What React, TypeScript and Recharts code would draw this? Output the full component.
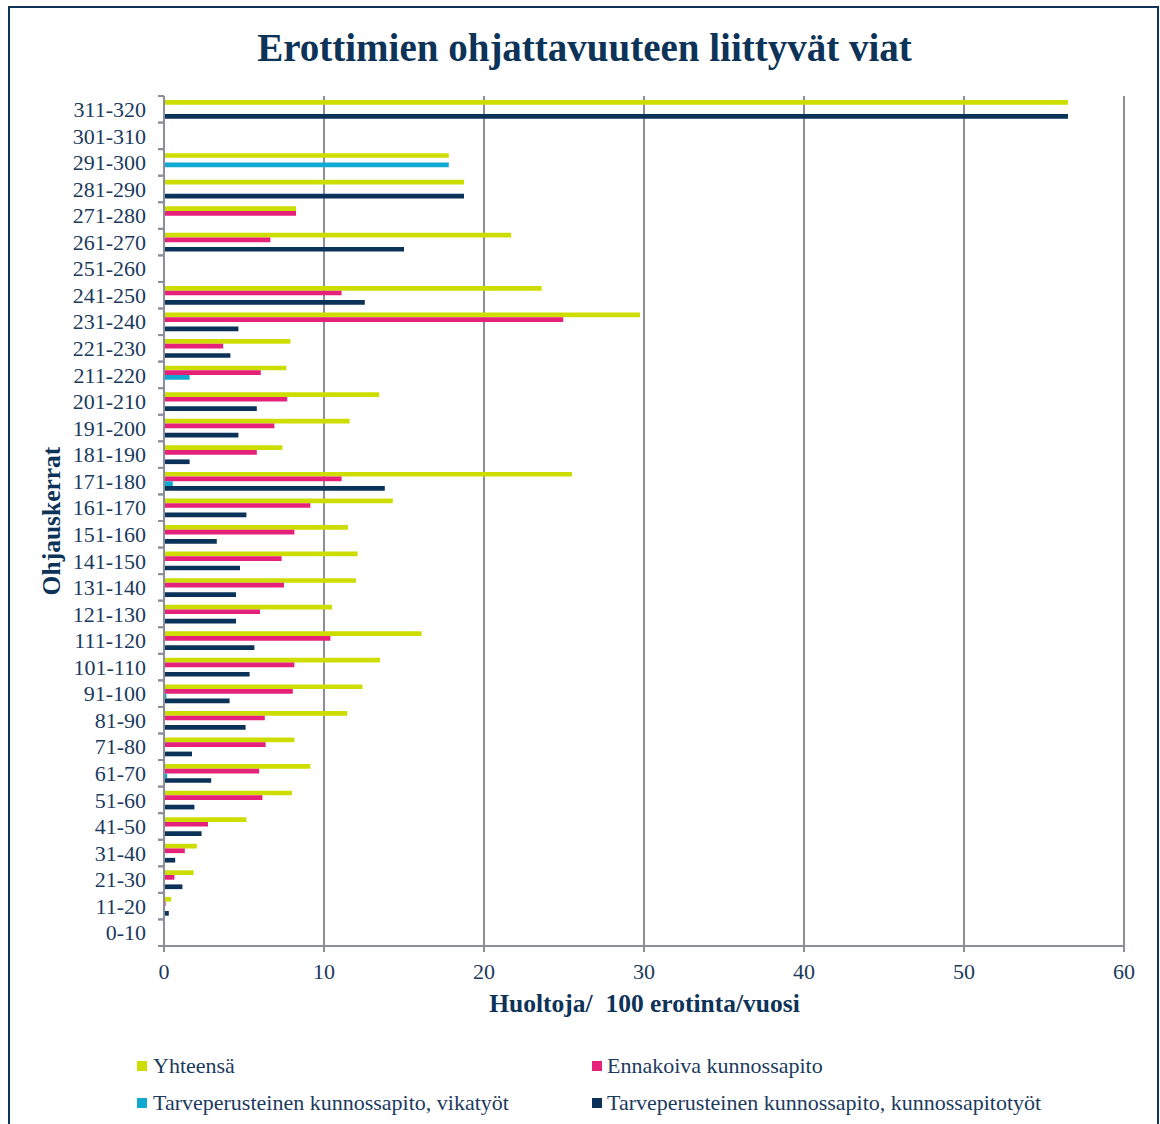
import React from 'react';
import { BarChart, Bar, XAxis, YAxis, CartesianGrid } from 'recharts';

// Categories listed from top of chart to bottom
const categories = [
  '311-320', '301-310', '291-300', '281-290', '271-280', '261-270', '251-260', '241-250',
  '231-240', '221-230', '211-220', '201-210', '191-200', '181-190', '171-180', '161-170',
  '151-160', '141-150', '131-140', '121-130', '111-120', '101-110', '91-100', '81-90',
  '71-80', '61-70', '51-60', '41-50', '31-40', '21-30', '11-20', '0-10',
];

const yhteensa = [
  56.5, 0, 17.8, 18.75, 8.25, 21.7, 0, 23.6,
  29.75, 7.9, 7.65, 13.45, 11.6, 7.4, 25.5, 14.3,
  11.5, 12.1, 12.0, 10.5, 16.1, 13.5, 12.4, 11.45,
  8.15, 9.15, 8.0, 5.15, 2.05, 1.85, 0.45, 0,
];

const ennakoiva = [
  0, 0, 0, 0, 8.25, 6.65, 0, 11.1,
  24.95, 3.7, 6.05, 7.7, 6.9, 5.8, 11.1, 9.15,
  8.15, 7.35, 7.5, 6.0, 10.4, 8.15, 8.05, 6.3,
  6.35, 5.95, 6.15, 2.75, 1.3, 0.65, 0.1, 0,
];

const vikatyot = [
  0, 0, 17.8, 0, 0, 0, 0, 0,
  0, 0, 1.6, 0, 0, 0, 0.55, 0,
  0, 0, 0, 0, 0, 0, 0.15, 0,
  0, 0.2, 0, 0, 0, 0, 0, 0,
];

const kunnossapitotyot = [
  56.5, 0, 0, 18.75, 0, 15.0, 0, 12.55,
  4.65, 4.15, 0, 5.8, 4.65, 1.6, 13.8, 5.15,
  3.3, 4.75, 4.5, 4.5, 5.65, 5.35, 4.1, 5.1,
  1.75, 2.95, 1.9, 2.35, 0.7, 1.15, 0.3, 0,
];

const xTicks = [0, 10, 20, 30, 40, 50, 60];

const seriesKeys = ['yhteensa', 'ennakoiva', 'vikatyot', 'kunnossapitotyot'];
const seriesNames = [
  'Yhteensä',
  'Ennakoiva kunnossapito',
  'Tarveperusteinen kunnossapito, vikatyöt',
  'Tarveperusteinen kunnossapito, kunnossapitotyöt',
];
const seriesColors = ['#CEDD00', '#E5217A', '#10A9D1', '#0B3258'];

const data = categories.map((cat, i) => ({
  cat,
  yhteensa: yhteensa[i],
  ennakoiva: ennakoiva[i],
  vikatyot: vikatyot[i],
  kunnossapitotyot: kunnossapitotyot[i],
}));

const FONT = '"Liberation Serif", "Times New Roman", serif';
const TEXT = '#1B3A5E';
const TITLE = '#0D3358';
const GRID = '#8C8F9B';
const PLOT_LEFT = 164;
const PLOT_TOP = 96;
const PLOT_BOTTOM = 946;
const BAND = (PLOT_BOTTOM - PLOT_TOP) / categories.length;

const YTick = (props: any) => {
  const { y, payload } = props;
  return (
    <g>
      <line x1={PLOT_LEFT - 6} x2={PLOT_LEFT} y1={y - BAND / 2} y2={y - BAND / 2} stroke={GRID} strokeWidth={2} />
      <line x1={PLOT_LEFT - 6} x2={PLOT_LEFT} y1={y + BAND / 2} y2={y + BAND / 2} stroke={GRID} strokeWidth={2} />
      <text
        x={PLOT_LEFT - 18}
        y={y}
        dy="0.35em"
        textAnchor="end"
        fill={TEXT}
        fontSize={22}
        fontFamily={FONT}
        style={{ fontFamily: FONT }}
      >
        {payload.value}
      </text>
    </g>
  );
};

const XTick = (props: any) => {
  const { x, payload } = props;
  return (
    <text
      x={x}
      y={971}
      dy="0.35em"
      textAnchor="middle"
      fill={TEXT}
      fontSize={22}
      fontFamily={FONT}
      style={{ fontFamily: FONT }}
    >
      {payload.value}
    </text>
  );
};

const legendPos = [
  { mx: 137, tx: 153, cy: 1066 },
  { mx: 592, tx: 607, cy: 1066 },
  { mx: 137, tx: 153, cy: 1103 },
  { mx: 592, tx: 607, cy: 1103 },
];

export default function App() {
  return (
    <div style={{ position: 'absolute', left: 0, top: 0, width: 1160, height: 1124, overflow: 'hidden', background: '#fff' }}>
      <div
        style={{
          position: 'absolute',
          left: 8,
          top: 6,
          width: 1151,
          height: 1140,
          border: '2px solid #0D3358',
          boxSizing: 'border-box',
        }}
      />
      <div
        style={{
          position: 'absolute',
          left: 584.5,
          top: 27.5,
          transform: 'translateX(-50%)',
          fontFamily: FONT,
          fontWeight: 'bold',
          fontSize: 39,
          lineHeight: '39px',
          color: TITLE,
          whiteSpace: 'nowrap',
        }}
      >
        Erottimien ohjattavuuteen liittyvät viat
      </div>
      <div style={{ position: 'absolute', left: 0, top: 0 }}>
        <BarChart
          width={1160}
          height={1124}
          data={data}
          layout="vertical"
          margin={{ top: PLOT_TOP, right: 36, bottom: 148, left: 64 }}
          barSize={4.7}
          barGap={0}
        >
          <CartesianGrid horizontal={false} stroke={GRID} strokeWidth={2} />
          <XAxis
            type="number"
            domain={[0, 60]}
            ticks={xTicks}
            interval={0}
            height={30}
            axisLine={{ stroke: GRID, strokeWidth: 2 }}
            tickLine={{ stroke: GRID, strokeWidth: 2 }}
            tickSize={6}
            tickMargin={11}
            tick={<XTick />}
          />
          <YAxis
            type="category"
            dataKey="cat"
            width={100}
            interval={0}
            axisLine={{ stroke: GRID, strokeWidth: 2 }}
            tickLine={false}
            tick={<YTick />}
          />
          {seriesKeys.map((k, i) => (
            <Bar key={k} dataKey={k} name={seriesNames[i]} fill={seriesColors[i]} isAnimationActive={false} />
          ))}
        </BarChart>
      </div>
      <div
        style={{
          position: 'absolute',
          left: 644.5,
          top: 991,
          transform: 'translateX(-50%)',
          fontFamily: FONT,
          fontWeight: 'bold',
          fontSize: 25.5,
          lineHeight: '25.5px',
          color: TITLE,
          whiteSpace: 'pre',
        }}
      >
        {'Huoltoja/  100 erotinta/vuosi'}
      </div>
      <div
        style={{
          position: 'absolute',
          left: 52,
          top: 521,
          transform: 'translate(-50%, -50%) rotate(-90deg)',
          fontFamily: FONT,
          fontWeight: 'bold',
          fontSize: 25.5,
          lineHeight: '25.5px',
          color: TITLE,
          whiteSpace: 'nowrap',
        }}
      >
        Ohjauskerrat
      </div>
      {seriesNames.map((name, i) => (
        <React.Fragment key={name}>
          <div
            style={{
              position: 'absolute',
              left: legendPos[i].mx,
              top: legendPos[i].cy - 5,
              width: 10,
              height: 10,
              background: seriesColors[i],
            }}
          />
          <div
            style={{
              position: 'absolute',
              left: legendPos[i].tx,
              top: legendPos[i].cy - 11,
              fontFamily: FONT,
              fontSize: 22,
              lineHeight: '22px',
              color: TEXT,
              whiteSpace: 'nowrap',
            }}
          >
            {name}
          </div>
        </React.Fragment>
      ))}
    </div>
  );
}
